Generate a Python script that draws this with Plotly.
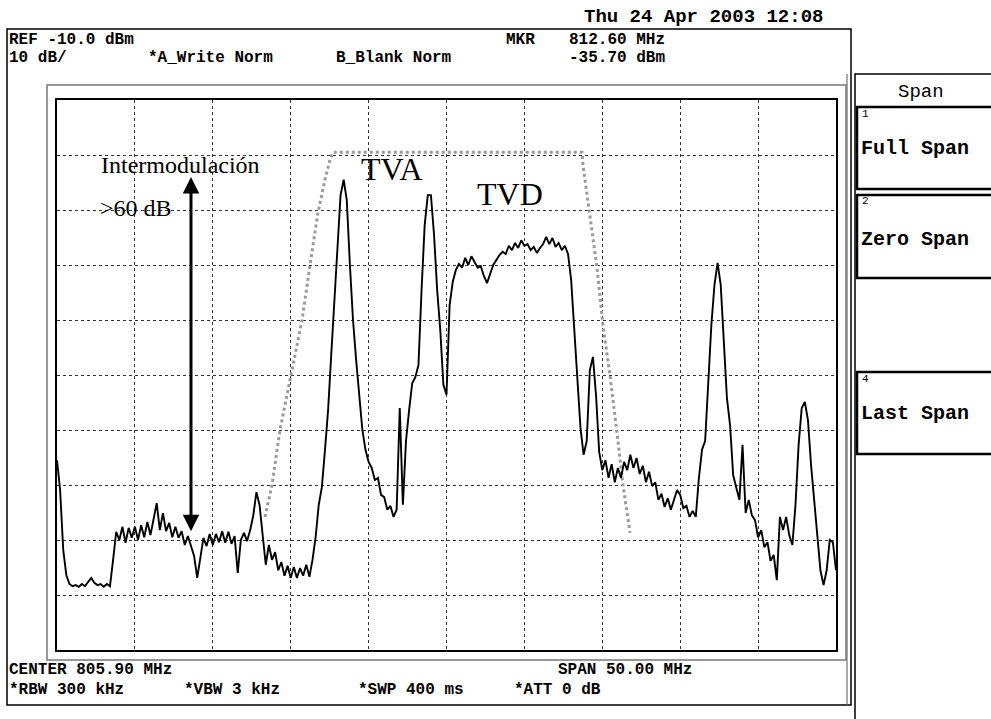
import numpy as np
import plotly.graph_objects as go

# ---- Spectrum analyzer settings ----
center_mhz = 805.90
span_mhz = 50.00
ref_dbm = -10.0
db_per_div = 10
n_points = 251

# Trace A levels (dBm), one per sweep point across the span
level_dbm = [
    -75.5, -80.9, -91.8, -96.4, -98.0, -98.4, -98.2, -98.5, -98.0, -98.4,
    -97.6, -96.9, -97.8, -98.2, -98.0, -98.5, -98.0, -98.4, -93.6, -88.5,
    -90.0, -87.6, -90.5, -87.8, -89.6, -87.6, -90.0, -87.3, -89.5, -86.7,
    -89.1, -86.4, -83.3, -88.2, -85.1, -88.4, -86.9, -89.5, -87.6, -89.6,
    -88.4, -90.9, -89.3, -91.1, -92.9, -96.9, -93.6, -89.6, -91.1, -88.9,
    -90.9, -88.9, -90.4, -88.4, -90.5, -88.5, -90.7, -89.3, -96.0, -90.0,
    -88.7, -90.2, -88.2, -85.5, -81.3, -83.6, -89.1, -94.5, -90.9, -93.6,
    -92.2, -95.5, -94.0, -96.5, -94.7, -96.9, -94.9, -96.9, -95.1, -96.5,
    -94.5, -96.7, -93.6, -89.5, -83.6, -80.4, -73.6, -66.4, -56.4, -46.4,
    -37.3, -27.3, -24.5, -28.2, -40.0, -50.0, -57.3, -63.6, -70.0, -73.6,
    -75.8, -76.9, -79.1, -78.7, -81.8, -82.2, -84.5, -83.8, -85.8, -84.5,
    -66.0, -83.6, -72.0, -66.4, -61.5, -60.4, -58.2, -44.5, -32.7, -27.3,
    -27.3, -34.5, -44.5, -51.8, -61.8, -63.6, -47.3, -43.1, -40.9, -39.8,
    -40.5, -38.7, -40.0, -38.4, -39.6, -40.5, -40.2, -42.0, -43.3, -41.5,
    -40.0, -39.1, -38.2, -37.6, -38.0, -36.5, -37.3, -36.0, -36.9, -35.5,
    -36.5, -36.2, -37.3, -36.7, -37.8, -36.9, -36.2, -34.9, -36.2, -35.1,
    -36.7, -36.0, -37.3, -36.5, -38.0, -42.7, -51.8, -60.9, -69.6, -74.5,
    -72.0, -59.1, -56.7, -63.8, -74.0, -77.3, -75.5, -78.7, -76.2, -79.5,
    -76.9, -78.7, -75.8, -77.3, -74.5, -76.9, -75.1, -78.0, -76.5, -79.5,
    -77.6, -80.2, -79.5, -82.7, -81.6, -84.0, -82.4, -84.5, -82.7, -80.9,
    -81.8, -84.2, -83.8, -85.8, -84.7, -85.8, -78.7, -73.6, -72.0, -61.5,
    -50.9, -43.6, -39.6, -43.6, -54.5, -64.2, -69.1, -78.2, -80.5, -82.7,
    -72.7, -85.1, -82.7, -85.5, -86.4, -89.5, -88.2, -91.3, -90.4, -93.8,
    -92.7, -97.3, -85.8, -88.2, -85.8, -89.1, -90.9, -83.6, -72.7, -66.0,
    -64.9, -68.2, -76.4, -82.7, -90.0, -95.5, -98.2, -95.5, -90.0, -90.4,
    -95.5,
]

# Channel mask (dotted grey outline)
mask_mhz = [794.25, 794.70, 795.21, 795.98, 796.63, 797.14, 797.65, 798.10,
            798.42, 798.62, 814.60, 814.66, 815.05, 815.56, 815.94, 816.39,
            816.84, 817.23, 817.68]
mask_dbm = [-85.8, -80.0, -70.0, -59.1, -50.0, -40.0, -30.5, -24.5,
            -20.9, -19.5, -19.5, -21.8, -30.0, -40.5, -50.9, -60.0,
            -70.4, -80.0, -88.7]

# Intermodulation arrow (MHz, dBm top, dBm bottom)
arrow_mhz = 789.50
arrow_top_dbm = -24.0
arrow_bot_dbm = -88.7

start = center_mhz - span_mhz / 2
stop = center_mhz + span_mhz / 2
freq_mhz = np.linspace(start, stop, n_points)
bottom = ref_dbm - 10 * db_per_div

W, H = 991, 719
L, R, T, B = 57, 836, 100, 650


def px(x):
    return (x - L) / (R - L)


def py(y):
    return (B - y) / (B - T)


fig = go.Figure()
fig.add_trace(go.Scatter(x=mask_mhz, y=mask_dbm, mode="lines",
                         line=dict(color="#9a9a9a", width=3, dash="dot"),
                         hoverinfo="skip", showlegend=False))
fig.add_trace(go.Scatter(x=freq_mhz, y=level_dbm, mode="lines",
                         line=dict(color="black", width=1.9),
                         showlegend=False))

mono = "Liberation Mono"
shapes = []
# outer screen frame
shapes.append(dict(type="rect", xref="paper", yref="paper",
                   x0=px(7), x1=px(851), y0=py(705), y1=py(29),
                   line=dict(color="black", width=1.5)))
shapes.append(dict(type="line", xref="paper", yref="paper",
                   x0=px(847), x1=px(847), y0=py(705), y1=py(74),
                   line=dict(color="#555", width=1)))
# grey graticule panel
shapes.append(dict(type="rect", xref="paper", yref="paper",
                   x0=px(47), x1=px(846), y0=py(660), y1=py(85),
                   line=dict(color="#777", width=1.5)))
# softkey panel
shapes.append(dict(type="rect", xref="paper", yref="paper",
                   x0=px(855), x1=px(995), y0=py(725), y1=py(74),
                   line=dict(color="black", width=1.5)))
for y0, y1 in [(107, 189), (195, 278), (372, 454)]:
    shapes.append(dict(type="rect", xref="paper", yref="paper",
                       x0=px(857), x1=px(995), y0=py(y1), y1=py(y0),
                       line=dict(color="black", width=2.5)))

ann = []


def txt(s, x, y, size=16, font=mono, color="black", anchor="left",
        bold=True):
    ann.append(dict(text=f"<b>{s}</b>" if bold else s, x=px(x), y=py(y),
                    xref="paper", yref="paper", xanchor=anchor,
                    yanchor="middle", showarrow=False, borderpad=0,
                    font=dict(family=font, size=size, color=color)))


txt("Thu 24 Apr 2003 12:08", 583, 17, size=19)
txt("REF -10.0 dBm", 8, 40)
txt("10 dB/", 8, 58)
txt("*A_Write Norm", 147, 58)
txt("B_Blank Norm", 335, 58)
txt("MKR", 505, 40)
txt("812.60 MHz", 568, 40)
txt("-35.70 dBm", 568, 58)
txt("CENTER 805.90 MHz", 8, 670)
txt("SPAN 50.00 MHz", 557, 670)
txt("*RBW 300 kHz", 8, 690)
txt("*VBW 3 kHz", 183, 690)
txt("*SWP 400 ms", 357, 690)
txt("*ATT 0 dB", 513, 690)
txt("Span", 921, 92, size=19, anchor="center", bold=False)
txt("1", 861, 114, size=11, bold=False)
txt("Full Span", 860, 148, size=20)
txt("2", 861, 201, size=11, bold=False)
txt("Zero Span", 860, 240, size=20)
txt("4", 861, 379, size=11, bold=False)
txt("Last Span", 860, 413, size=20)

serif = "Liberation Serif"
txt("Intermodulación", 100, 165, size=24, font=serif, bold=False)
txt(">60 dB", 99, 208, size=24, font=serif, bold=False)
txt("TVA", 360, 169, size=32, font=serif, bold=False)
txt("TVD", 476, 194, size=32, font=serif, bold=False)

ann.append(dict(x=arrow_mhz, y=arrow_top_dbm, ax=arrow_mhz, ay=arrow_bot_dbm,
                xref="x", yref="y", axref="x", ayref="y", text="",
                showarrow=True, arrowhead=2, arrowsize=1.1, arrowwidth=3,
                arrowside="end+start", arrowcolor="black", standoff=0,
                startstandoff=0))

axis_common = dict(showgrid=True, gridcolor="#333", griddash="dot",
                   gridwidth=1, zeroline=False, showticklabels=False,
                   ticks="", showline=True, linecolor="black", linewidth=1.5,
                   mirror=True)

fig.update_layout(
    width=W, height=H,
    margin=dict(l=L, r=W - R, t=T, b=H - B),
    paper_bgcolor="white", plot_bgcolor="white",
    xaxis=dict(range=[start, stop], dtick=span_mhz / 10, tick0=start,
               **axis_common),
    yaxis=dict(range=[bottom, ref_dbm], dtick=db_per_div, tick0=bottom,
               **axis_common),
    shapes=shapes, annotations=ann, showlegend=False,
)

fig.write_html("out.html")
